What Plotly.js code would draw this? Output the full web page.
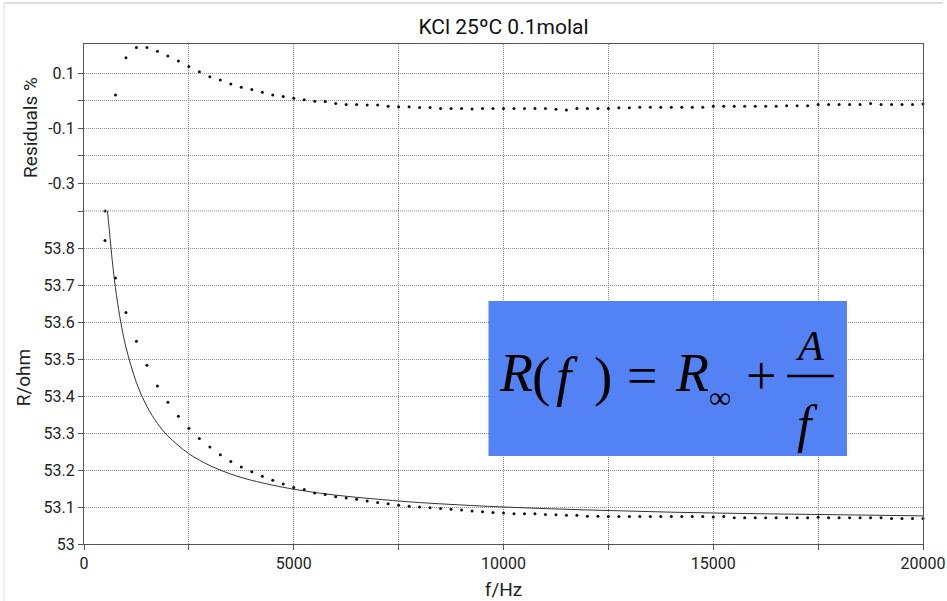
<!DOCTYPE html>
<html>
<head>
<meta charset="utf-8">
<script src="https://cdn.plot.ly/plotly-3.0.1.min.js"></script>
<style>html,body{margin:0;padding:0;background:#fff;}#chart{width:947px;height:601px;}</style>
</head>
<body>
<div id="chart"></div>
<script>
// Measurement frequencies (Hz)
const freq = [500, 750, 1000, 1250, 1500, 1750, 2000, 2250, 2500, 2750, 3000, 3250, 3500, 3750, 4000, 4250, 4500, 4750, 5000, 5250, 5500, 5750, 6000, 6250, 6500, 6750, 7000, 7250, 7500, 7750, 8000, 8250, 8500, 8750, 9000, 9250, 9500, 9750, 10000, 10250, 10500, 10750, 11000, 11250, 11500, 11750, 12000, 12250, 12500, 12750, 13000, 13250, 13500, 13750, 14000, 14250, 14500, 14750, 15000, 15250, 15500, 15750, 16000, 16250, 16500, 16750, 17000, 17250, 17500, 17750, 18000, 18250, 18500, 18750, 19000, 19250, 19500, 19750, 20000];

// Measured resistance (ohm)
const resistance = [53.820, 53.719, 53.626, 53.548, 53.483, 53.427, 53.383, 53.345, 53.313, 53.285, 53.262, 53.241, 53.223, 53.208, 53.195, 53.183, 53.172, 53.162, 53.153, 53.147, 53.138, 53.134, 53.128, 53.124, 53.121, 53.116, 53.112, 53.109, 53.105, 53.102, 53.100, 53.098, 53.096, 53.094, 53.092, 53.089, 53.087, 53.085, 53.084, 53.082, 53.082, 53.082, 53.080, 53.079, 53.078, 53.078, 53.075, 53.075, 53.074, 53.074, 53.074, 53.074, 53.074, 53.074, 53.074, 53.074, 53.074, 53.074, 53.073, 53.074, 53.071, 53.071, 53.071, 53.071, 53.071, 53.071, 53.071, 53.071, 53.072, 53.071, 53.071, 53.071, 53.071, 53.071, 53.071, 53.069, 53.069, 53.069, 53.069];

// Residuals (%)
const residuals = [-0.400, 0.022, 0.157, 0.194, 0.194, 0.181, 0.163, 0.145, 0.125, 0.106, 0.088, 0.076, 0.062, 0.050, 0.042, 0.032, 0.022, 0.016, 0.010, 0.004, -0.001, -0.002, -0.009, -0.013, -0.013, -0.015, -0.015, -0.019, -0.021, -0.021, -0.024, -0.024, -0.027, -0.027, -0.027, -0.029, -0.027, -0.027, -0.027, -0.027, -0.027, -0.027, -0.027, -0.030, -0.033, -0.027, -0.027, -0.027, -0.027, -0.025, -0.025, -0.023, -0.023, -0.023, -0.023, -0.023, -0.023, -0.023, -0.019, -0.019, -0.019, -0.019, -0.019, -0.019, -0.019, -0.017, -0.017, -0.017, -0.013, -0.013, -0.013, -0.013, -0.013, -0.009, -0.013, -0.013, -0.013, -0.013, -0.011];

// Fitted curve R(f) = Rinf + A/f
const fitFreq = [560, 600, 700, 800, 900, 1000, 1250, 1500, 1750, 2000, 2500, 3000, 3500, 4000, 5000, 6000, 7000, 8000, 10000, 12000, 14000, 16000, 18000, 20000];
const fitR = [53.900, 53.852, 53.738, 53.652, 53.585, 53.532, 53.436, 53.372, 53.326, 53.292, 53.244, 53.212, 53.189, 53.172, 53.148, 53.132, 53.121, 53.112, 53.100, 53.092, 53.086, 53.082, 53.079, 53.076];

// Axis ticks
const xTickVals = [0, 2500, 5000, 7500, 10000, 12500, 15000, 17500, 20000];
const xTickText = ['0', '', '5000', '', '10000', '', '15000', '', '20000'];
const rTickVals = [53, 53.1, 53.2, 53.3, 53.4, 53.5, 53.6, 53.7, 53.8, 53.9];
const rTickText = ['53', '53.1', '53.2', '53.3', '53.4', '53.5', '53.6', '53.7', '53.8', ''];
const resTickVals = [-0.3, -0.2, -0.1, 0, 0.1];
const resTickText = ['-0.3', '', '-0.1', '', '0.1'];

// Formula glyphs
const formulaGlyphs = ['<i>R</i>', '(', '<i>f</i>', ')', '=', '<i>R</i>', '∞', '+', '<i>A</i>', '<i>f</i>'];

const FONT = 'Roboto, "Liberation Sans", Arial, sans-serif';
const SERIF = '"Liberation Serif", "Times New Roman", serif';
const gridStyle = {showgrid: true, gridcolor: '#8a8a8a', griddash: '1px,1px', gridwidth: 1,
  showline: true, linecolor: '#555', linewidth: 1, zeroline: false,
  ticks: 'outside', ticklen: 5, tickcolor: '#555', tickfont: {family: FONT, size: 16, color: '#222'}};

const traces = [
  {x: freq, y: residuals, xaxis: 'x2', yaxis: 'y2', type: 'scatter', mode: 'markers',
   marker: {size: 3, color: '#111'}, cliponaxis: false, showlegend: false, hoverinfo: 'skip'},
  {x: fitFreq, y: fitR, xaxis: 'x', yaxis: 'y', type: 'scatter', mode: 'lines',
   line: {color: '#333', width: 1, shape: 'spline'}, showlegend: false, hoverinfo: 'skip'},
  {x: freq, y: resistance, xaxis: 'x', yaxis: 'y', type: 'scatter', mode: 'markers',
   marker: {size: 3, color: '#111'}, cliponaxis: false, showlegend: false, hoverinfo: 'skip'}
];

// pixel -> paper helpers for annotation placement
const PL = 84, PW = 839, PB = 544, PH = 500;
const px = v => (v - PL) / PW;
const py = v => (PB - v) / PH;

function glyph(i, cx, cy, size) {
  return {xref: 'paper', yref: 'paper', x: px(cx), y: py(cy), xanchor: 'center', yanchor: 'middle',
    showarrow: false, text: formulaGlyphs[i], font: {family: SERIF, size: size, color: '#000'}};
}

const layout = {
  width: 947, height: 601,
  margin: {l: 84, r: 24, t: 44, b: 57},
  paper_bgcolor: '#fff', plot_bgcolor: '#fff',
  title: {text: 'KCl 25ºC 0.1molal', font: {family: FONT, size: 21, color: '#111'},
          x: 0.5, xref: 'paper', xanchor: 'center', y: 0.955, yanchor: 'middle'},
  xaxis: Object.assign({}, gridStyle, {domain: [0, 1], range: [0, 20000], anchor: 'y', mirror: false,
    tickmode: 'array', tickvals: xTickVals, ticktext: xTickText,
    title: {text: 'f/Hz', font: {family: FONT, size: 19, color: '#222'}, standoff: 10}}),
  xaxis2: Object.assign({}, gridStyle, {domain: [0, 1], range: [0, 20000], anchor: 'y2', matches: 'x',
    side: 'top', mirror: false, tickmode: 'array', tickvals: xTickVals, showticklabels: false, ticks: ''}),
  yaxis: Object.assign({}, gridStyle, {domain: [0, 0.666], range: [53, 53.9], anchor: 'x', mirror: true,
    tickmode: 'array', tickvals: rTickVals, ticktext: rTickText,
    title: {text: 'R/ohm', font: {family: FONT, size: 19, color: '#222'}, standoff: 7}}),
  yaxis2: Object.assign({}, gridStyle, {domain: [0.666, 1], range: [-0.4, 0.207], anchor: 'x2', mirror: true,
    tickmode: 'array', tickvals: resTickVals, ticktext: resTickText,
    title: {text: 'Residuals %', font: {family: FONT, size: 19, color: '#222'}, standoff: 5}}),
  shapes: [
    {type: 'line', xref: 'paper', yref: 'paper', x0: 0, x1: 1, y0: 0.666, y1: 0.666,
     line: {color: '#8a8a8a', width: 1, dash: '1px,1px'}},
    {type: 'line', xref: 'paper', yref: 'paper', x0: -0.0954, x1: 1.0238, y0: 1.082, y1: 1.082,
     line: {color: '#bdbdbd', width: 1}},
    {type: 'line', xref: 'paper', yref: 'paper', x0: -0.0954, x1: -0.0954, y0: 1.082, y1: -0.114,
     line: {color: '#e0e0e0', width: 1}},
    {type: 'rect', xref: 'paper', yref: 'paper', x0: px(488.5), x1: px(847), y0: py(456), y1: py(301),
     fillcolor: '#5282f3', line: {width: 0}, layer: 'above'},
    {type: 'line', xref: 'paper', yref: 'paper', x0: px(787), x1: px(834), y0: py(376), y1: py(376),
     line: {color: '#000', width: 2.5}, layer: 'above'}
  ],
  annotations: [
    glyph(0, 516, 373, 54),
    glyph(1, 541, 377, 55),
    glyph(2, 567, 377, 55),
    glyph(3, 603, 377, 55),
    glyph(4, 642, 376, 54),
    glyph(5, 692, 373, 54),
    glyph(6, 720, 397, 31),
    glyph(7, 761, 376, 54),
    glyph(8, 809, 346, 42),
    glyph(9, 807, 424, 52)
  ]
};

Plotly.newPlot('chart', traces, layout, {staticPlot: true, displayModeBar: false});
</script>
</body>
</html>
